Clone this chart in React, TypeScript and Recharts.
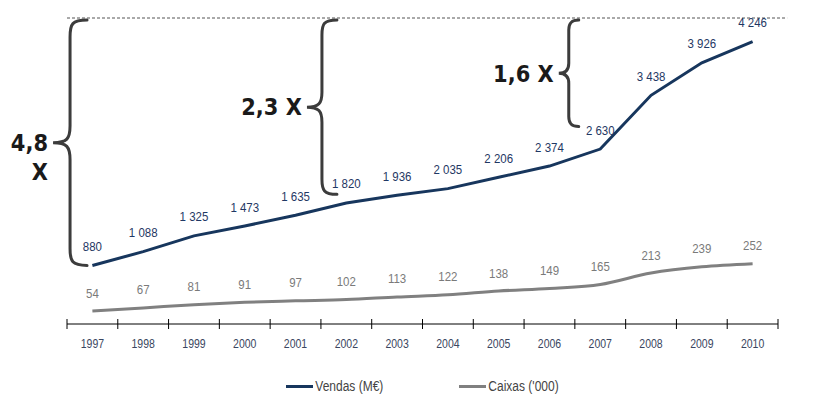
import React from 'react';
import { LineChart, Line, XAxis, YAxis, ReferenceLine, LabelList, Legend } from 'recharts';

const years = [1997, 1998, 1999, 2000, 2001, 2002, 2003, 2004, 2005, 2006, 2007, 2008, 2009, 2010];
const vendas = [880, 1088, 1325, 1473, 1635, 1820, 1936, 2035, 2206, 2374, 2630, 3438, 3926, 4246];
const caixas = [54, 67, 81, 91, 97, 102, 113, 122, 138, 149, 165, 213, 239, 252];
const seriesNames = ['Vendas (M€)', "Caixas ('000)"];
const seriesColors = ['#17365d', '#808080'];

// brace annotations (growth multiples)
const braceLabels = [['4,8', 'X'], ['2,3 X'], ['1,6 X']];
const braceBase = [880, 1950, 2970];
const braceTop = 4570;
const braceX = [1996.56, 2001.52, 2006.38];
const braceR = [17, 15, 10];

const vendasMax = 4600;
const caixasMax = 1280;

const data = years.map((y, i) => ({ year: y, vendas: vendas[i], caixas: caixas[i] }));
const labelTicks = years;
const markTicks = [...years.map((y) => y - 0.5), years[years.length - 1] + 0.5];
const xDomain: [number, number] = [markTicks[0], markTicks[markTicks.length - 1]];

const fmt = (v: any) => String(v).replace(/\B(?=(\d{3})+(?!\d))/g, ' ');

const MarkTick = (p: any) => (
  <line x1={p.x} x2={p.x} y1={p.y - 5} y2={p.y + 5} stroke="#000" strokeWidth={1} />
);

const YearTick = (p: any) => (
  <text
    transform={`translate(${p.x},${p.y + 23}) scale(1,1.28)`}
    textAnchor="middle"
    fill="#3a4660"
    fontSize={10.5}
  >
    {p.payload.value}
  </text>
);

const makeValueLabel = (color: string, off: number) => (p: any) => (
  <text
    transform={`translate(${p.x},${p.y - off}) scale(1,1.12)`}
    textAnchor="middle"
    fill={color}
    fontSize={11.5}
  >
    {fmt(p.value)}
  </text>
);

const makeBrace = (r: number, lines: string[]) => (p: any) => {
  const x = p.x1;
  const yT = Math.min(p.y1, p.y2);
  const yB = Math.max(p.y1, p.y2);
  const ym = (yT + yB) / 2;
  const d = `M${x + r},${yT} C${x + 2},${yT} ${x},${yT + 4} ${x},${yT + r} L${x},${ym - r} C${x},${ym - 4} ${x - 3},${ym} ${x - r},${ym} C${x - 3},${ym} ${x},${ym + 4} ${x},${ym + r} L${x},${yB - r} C${x},${yB - 4} ${x + 2},${yB} ${x + r},${yB}`;
  const tx = x - r - 5;
  return (
    <g>
      <path d={d} fill="none" stroke="#3c3c3c" strokeWidth={3} strokeLinecap="round" />
      <text transform={`translate(${tx},${ym}) scale(1,1.1)`} textAnchor="end" fontFamily="DejaVu Sans" fontWeight="bold" fontSize={21} fill="#1a1a1a">
        {lines.map((l, i) => (
          <tspan key={i} x={0} dy={i === 0 ? '0.36em' : 26.5}>{l}</tspan>
        ))}
      </text>
    </g>
  );
};

const LegendContent = () => (
  <div style={{ display: 'flex', justifyContent: 'center', alignItems: 'center', gap: 76, height: 16, fontFamily: 'Liberation Sans, Arial, sans-serif', fontSize: 12, color: '#444' }}>
    {seriesNames.map((n, i) => (
      <div key={n} style={{ display: 'flex', alignItems: 'center' }}>
        <span style={{ display: 'inline-block', width: 27, height: 3, background: seriesColors[i], marginRight: 2 }} />
        <span style={{ display: 'inline-block', transform: 'scaleY(1.15)' }}>{n}</span>
      </div>
    ))}
  </div>
);

export default function App() {
  return (
    <div style={{ position: 'absolute', left: 0, top: 0 }}>
      <LineChart
        width={814}
        height={397}
        data={data}
        margin={{ top: 18, right: 36, bottom: 42, left: 67 }}
        style={{ fontFamily: 'Liberation Sans, Arial, sans-serif' }}
      >
        <XAxis
          xAxisId="a"
          type="number"
          dataKey="year"
          domain={xDomain}
          ticks={markTicks}
          interval={0}
          tickLine={false}
          tickSize={0}
          tickMargin={0}
          height={1}
          axisLine={{ stroke: '#000', strokeWidth: 1 }}
          tick={MarkTick}
          allowDataOverflow
        />
        <XAxis
          xAxisId="b"
          type="number"
          dataKey="year"
          domain={xDomain}
          ticks={labelTicks}
          interval={0}
          tickLine={false}
          axisLine={false}
          tickSize={0}
          tickMargin={0}
          height={30}
          tick={YearTick}
          allowDataOverflow
        />
        <YAxis yAxisId="v" domain={[0, vendasMax]} hide allowDataOverflow />
        <YAxis yAxisId="c" domain={[0, caixasMax]} hide allowDataOverflow />
        <ReferenceLine
          xAxisId="b"
          yAxisId="v"
          segment={[{ x: xDomain[0], y: vendasMax }, { x: xDomain[1] + 0.18, y: vendasMax }]}
          ifOverflow="visible"
          stroke="#555"
          strokeDasharray="3 2"
          strokeWidth={1}
        />
        {braceX.map((bx, i) => (
          <ReferenceLine
            key={i}
            xAxisId="b"
            yAxisId="v"
            segment={[{ x: bx, y: braceBase[i] }, { x: bx, y: braceTop }]}
            ifOverflow="visible"
            shape={makeBrace(braceR[i], braceLabels[i])}
          />
        ))}
        <Line
          xAxisId="b"
          yAxisId="v"
          dataKey="vendas"
          name={seriesNames[0]}
          type="linear"
          stroke={seriesColors[0]}
          strokeWidth={3}
          dot={false}
          isAnimationActive={false}
        >
          <LabelList dataKey="vendas" content={makeValueLabel('#1f3864', 14.5)} />
        </Line>
        <Line
          xAxisId="b"
          yAxisId="c"
          dataKey="caixas"
          name={seriesNames[1]}
          type="monotone"
          stroke={seriesColors[1]}
          strokeWidth={3}
          dot={false}
          isAnimationActive={false}
        >
          <LabelList dataKey="caixas" content={makeValueLabel('#7a7a7a', 13.5)} />
        </Line>
        <Legend
          verticalAlign="middle"
          align="center"
          wrapperStyle={{ top: 378, left: 67, width: 711, height: 16 }}
          content={() => <LegendContent />}
        />
      </LineChart>
    </div>
  );
}
